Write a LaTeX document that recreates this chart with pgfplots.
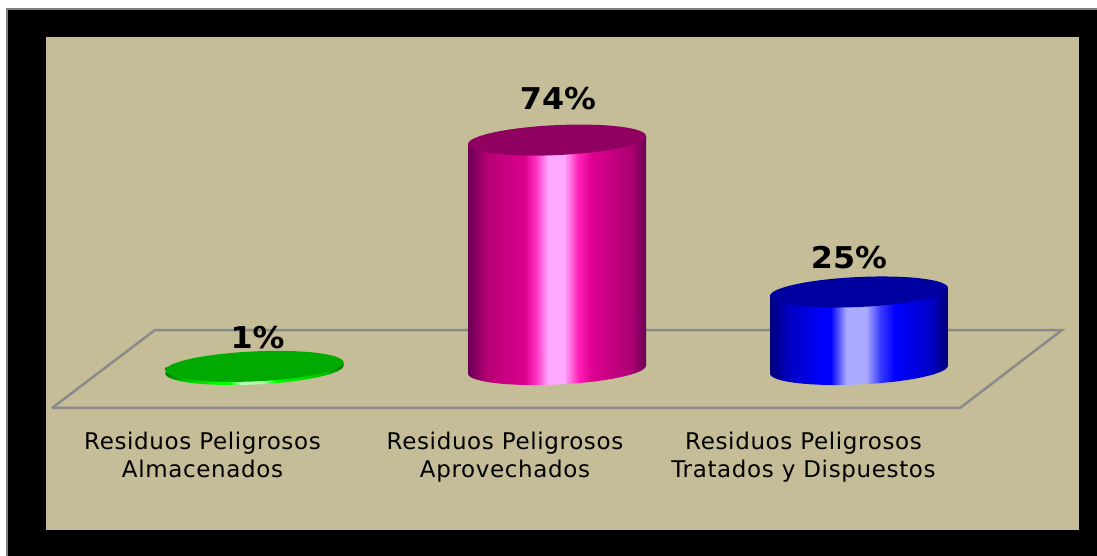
\documentclass[border=0pt]{standalone}
\usepackage{pgfplots}
\pgfplotsset{compat=1.18}
\usepackage{fontspec}
\setmainfont[LetterSpace=2.8]{DejaVu Sans}
\newfontfamily\lab[FakeStretch=1.06]{DejaVu Sans}
\definecolor{panel}{HTML}{C4BD97}
\definecolor{framegray}{HTML}{808080}
\definecolor{planegray}{HTML}{8A8A8A}
% body gradients: 25bp = left edge of a cylinder, 75bp = right edge
\definecolor{m0}{HTML}{6A0054}\definecolor{m1}{HTML}{B80076}\definecolor{m2}{HTML}{DC008E}
\definecolor{m3}{HTML}{FF30C0}\definecolor{m4}{HTML}{FFA8FF}\definecolor{m5}{HTML}{FF20B8}
\definecolor{m6}{HTML}{E00092}\definecolor{m7}{HTML}{AC0072}
\pgfdeclarehorizontalshading{cylmag}{100bp}{
 color(0bp)=(m0); color(25bp)=(m0); color(30.5bp)=(m1); color(41bp)=(m2); color(44bp)=(m3);
 color(47.5bp)=(m4); color(52bp)=(m4); color(56bp)=(m5); color(59.5bp)=(m6); color(71bp)=(m7);
 color(75bp)=(m0); color(100bp)=(m0)}
\definecolor{b0}{HTML}{000078}\definecolor{b1}{HTML}{0000C0}\definecolor{b2}{HTML}{0000FF}
\definecolor{b3}{HTML}{AAAAFF}\definecolor{b4}{HTML}{3A3AFF}\definecolor{b5}{HTML}{0000C8}
\pgfdeclarehorizontalshading{cylblue}{100bp}{
 color(0bp)=(b0); color(25bp)=(b0); color(30bp)=(b1); color(40bp)=(b2); color(42bp)=(b2);
 color(46.5bp)=(b3); color(52bp)=(b3); color(56bp)=(b4); color(60bp)=(b2); color(70bp)=(b5);
 color(75bp)=(b0); color(100bp)=(b0)}
\definecolor{g0}{HTML}{007800}\definecolor{g1}{HTML}{00C000}\definecolor{g2}{HTML}{00FF00}
\definecolor{g3}{HTML}{B0FFB0}
\pgfdeclarehorizontalshading{cylgreen}{100bp}{
 color(0bp)=(g0); color(25bp)=(g0); color(30bp)=(g1); color(40bp)=(g2); color(43bp)=(g2);
 color(46bp)=(g3); color(52bp)=(g3); color(56bp)=(g2); color(70bp)=(g1);
 color(75bp)=(g0); color(100bp)=(g0)}
% ellipse marks (sheared: right end higher than left end)
\newcommand\cylellipse{\pgfpathellipse{\pgfpointorigin}{\pgfpoint{89pt}{4pt}}{\pgfpoint{0pt}{15pt}}}
\pgfdeclareplotmark{botmag}{\pgfsetstrokeopacity{0}\cylellipse\pgfshadepath{cylmag}{0}\pgfusepath{discard}}
\pgfdeclareplotmark{botblue}{\pgfsetstrokeopacity{0}\cylellipse\pgfshadepath{cylblue}{0}\pgfusepath{discard}}
\pgfdeclareplotmark{botgreen}{\pgfsetstrokeopacity{0}\cylellipse\pgfshadepath{cylgreen}{0}\pgfusepath{discard}}
\pgfdeclareplotmark{cap}{\cylellipse\pgfusepathqfill}
\begin{document}
\begin{tikzpicture}[x=1pt,y=1pt]
\fill[white] (0,0) rectangle (1097,556);
\fill[framegray] (6,0) rectangle (1097,548);
\fill[black] (8,0) rectangle (1097,546);
\fill[panel] (46,26) rectangle (1079,519);
\begin{axis}[
  at={(0,0)}, anchor=south west,
  scale only axis, width=1097pt, height=556pt,
  xmin=0, xmax=1097, ymin=-60.161, ymax=119.194,
  clip=false,
  axis line style={draw=none},
  tick style={draw=none},
  ytick=\empty,
  xtick={202.5,505,803.5},
  xticklabels={Residuos Peligrosos\\Almacenados,
               Residuos Peligrosos\\Aprovechados,
               Residuos Peligrosos\\Tratados y Dispuestos},
  xticklabel style={align=center, font=\fontsize{23}{28.5}\selectfont, yshift=128pt},
  nodes near coords={\pgfmathprintnumber[assume math mode=true]{\pgfplotspointmeta}\%},
  nodes near coords style={font=\lab\bfseries\fontsize{30}{32}\selectfont, text=black, anchor=center},
]
% floor
\addplot[planegray, line width=2.5pt, no markers, nodes near coords={}] coordinates
  {(52,-12.42) (155,12.74) (1062,12.74) (960,-12.42) (52,-12.42)};
% green
\addplot[only marks, mark=botgreen, nodes near coords={}] coordinates {(254.5,0)};
\addplot[draw=none, shading=cylgreen, shading angle=0, no markers, nodes near coords={}]
  coordinates {(165.5,-0.29) (343.5,1.29) (343.5,2.29) (165.5,0.71)} -- cycle;
\addplot[only marks, mark=cap, mark options={fill={rgb,255:red,0;green,170;blue,0},draw=none},
  nodes near coords style={xshift=3pt, yshift=29pt}] coordinates {(254.5,1)};
% magenta
\addplot[only marks, mark=botmag, nodes near coords={}] coordinates {(557,0)};
\addplot[draw=none, shading=cylmag, shading angle=0, no markers, nodes near coords={}]
  coordinates {(468,-1.29) (646,1.29) (646,75.29) (468,72.71)} -- cycle;
\addplot[only marks, mark=cap, mark options={fill={rgb,255:red,143;green,0;blue,96},draw=none},
  nodes near coords style={xshift=1pt, yshift=42pt}] coordinates {(557,74)};
% blue
\addplot[only marks, mark=botblue, nodes near coords={}] coordinates {(859,0)};
\addplot[draw=none, shading=cylblue, shading angle=0, no markers, nodes near coords={}]
  coordinates {(770,-1.29) (948,1.29) (948,26.29) (770,23.71)} -- cycle;
\addplot[only marks, mark=cap, mark options={fill={rgb,255:red,0;green,0;blue,160},draw=none},
  nodes near coords style={xshift=-10pt, yshift=34pt}] coordinates {(859,25)};
\end{axis}
\end{tikzpicture}
\end{document}
